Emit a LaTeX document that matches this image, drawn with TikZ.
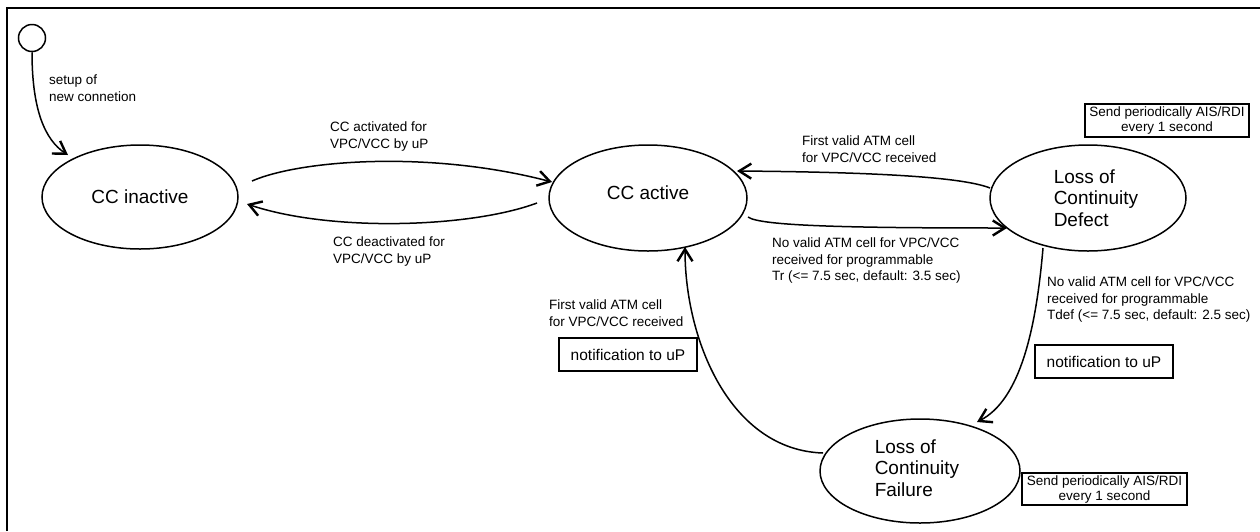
\documentclass[tikz,border=0pt]{standalone}
\usepackage{fontspec}
\setmainfont{Liberation Sans}
\usetikzlibrary{arrows.meta,shapes.geometric}
\begin{document}
\begin{tikzpicture}[x=1pt,y=-1pt,
  state/.style={draw,ellipse,line width=1.5pt,inner sep=0pt},
  big/.style={font=\fontsize{19}{21.7}\selectfont},
  lbl/.style={anchor=north west,inner sep=0pt,align=left,font=\fontsize{13.5}{16.3}\selectfont},
  conn/.style={line width=1.5pt,-{Straight Barb[length=12pt,width=15pt,line width=2.4pt]}},
  box/.style={draw,line width=1.6pt,inner sep=0pt,align=center}]
\useasboundingbox (0,0) rectangle (1260,531);
\draw[line width=1.5pt] (7,531) -- (7,8) -- (1260,8);

% states
\node[draw,circle,line width=1.5pt,minimum size=27pt,inner sep=0pt] (init) at (32,38) {};
\node[state,big,minimum width=196pt,minimum height=104pt] (inactive) at (140,197) {CC inactive};
\node[state,minimum width=198pt,minimum height=106pt,
  label={[big,yshift=5pt]center:CC active}] (active) at (648,198) {};
\node[state,minimum width=196pt,minimum height=106pt,
  label={[big,align=left,xshift=8pt]center:Loss of\\Continuity\\Defect}] (defect) at (1088,198) {};
\node[state,minimum width=200pt,minimum height=104pt,
  label={[big,align=left,xshift=-3pt,yshift=3pt]center:Loss of\\Continuity\\Failure}] (failure) at (920,471) {};

% boxes
\node[box,minimum width=164pt,minimum height=33pt,font=\fontsize{13.5}{15}\selectfont] (send1) at (1167,120.5) {Send periodically AIS/RDI\\every 1 second};
\node[box,minimum width=165pt,minimum height=32pt,font=\fontsize{13.5}{15}\selectfont] (send2) at (1104.5,489) {Send periodically AIS/RDI\\every 1 second};
\node[box,minimum width=138pt,minimum height=33pt,font=\fontsize{15.5}{18}\selectfont] (note1) at (628,354.5) {notification to uP};
\node[box,minimum width=138pt,minimum height=33pt,font=\fontsize{15.5}{18}\selectfont] (note2) at (1104,361.5) {notification to uP};

% labels
\node[lbl] (lsetup) at (49,75) {setup of\\new connetion};
\node[lbl] (lact) at (330,122) {CC activated for\\VPC/VCC by uP};
\node[lbl] (ldeact) at (333,237) {CC deactivated for\\VPC/VCC by uP};
\node[lbl] (lfirst1) at (802,136) {First valid ATM cell\\for VPC/VCC received};
\node[lbl] (lnotr) at (772,238) {No valid ATM cell for VPC/VCC\\received for programmable\\Tr (<= 7.5 sec, default: 3.5 sec)};
\node[lbl] (lnotdef) at (1047,277) {No valid ATM cell for VPC/VCC\\received for programmable\\Tdef (<= 7.5 sec, default: 2.5 sec)};
\node[lbl] (lfirst2) at (549,300) {First valid ATM cell\\for VPC/VCC received};

% connectors
\draw[conn] (init.south) .. controls (32,110) and (45,140) .. ([shift={(-72,-42)}]inactive.center);
\draw[conn] ([shift={(112,-16)}]inactive.center) .. controls (300,160) and (430,150) .. ([shift={(-96,-16)}]active.center);
\draw[conn] ([shift={(-111,5)}]active.center) .. controls (470,228) and (330,232) .. ([shift={(107,7)}]inactive.center);
\draw[conn] ([shift={(-98,-10)}]defect.center) .. controls (960,176) and (860,172) .. ([shift={(89,-27)}]active.center);
\draw[conn] ([shift={(100,19)}]active.center) .. controls (760,226) and (850,228) .. ([shift={(-81,30)}]defect.center);
\draw[conn] ([shift={(-45,50)}]defect.center) .. controls (1036,330) and (1020,400) .. ([shift={(57,-49)}]failure.center);
\draw[conn] ([shift={(-97,-18)}]failure.center) .. controls (730,450) and (685,340) .. ([shift={(37,49)}]active.center);
\end{tikzpicture}
\end{document}
